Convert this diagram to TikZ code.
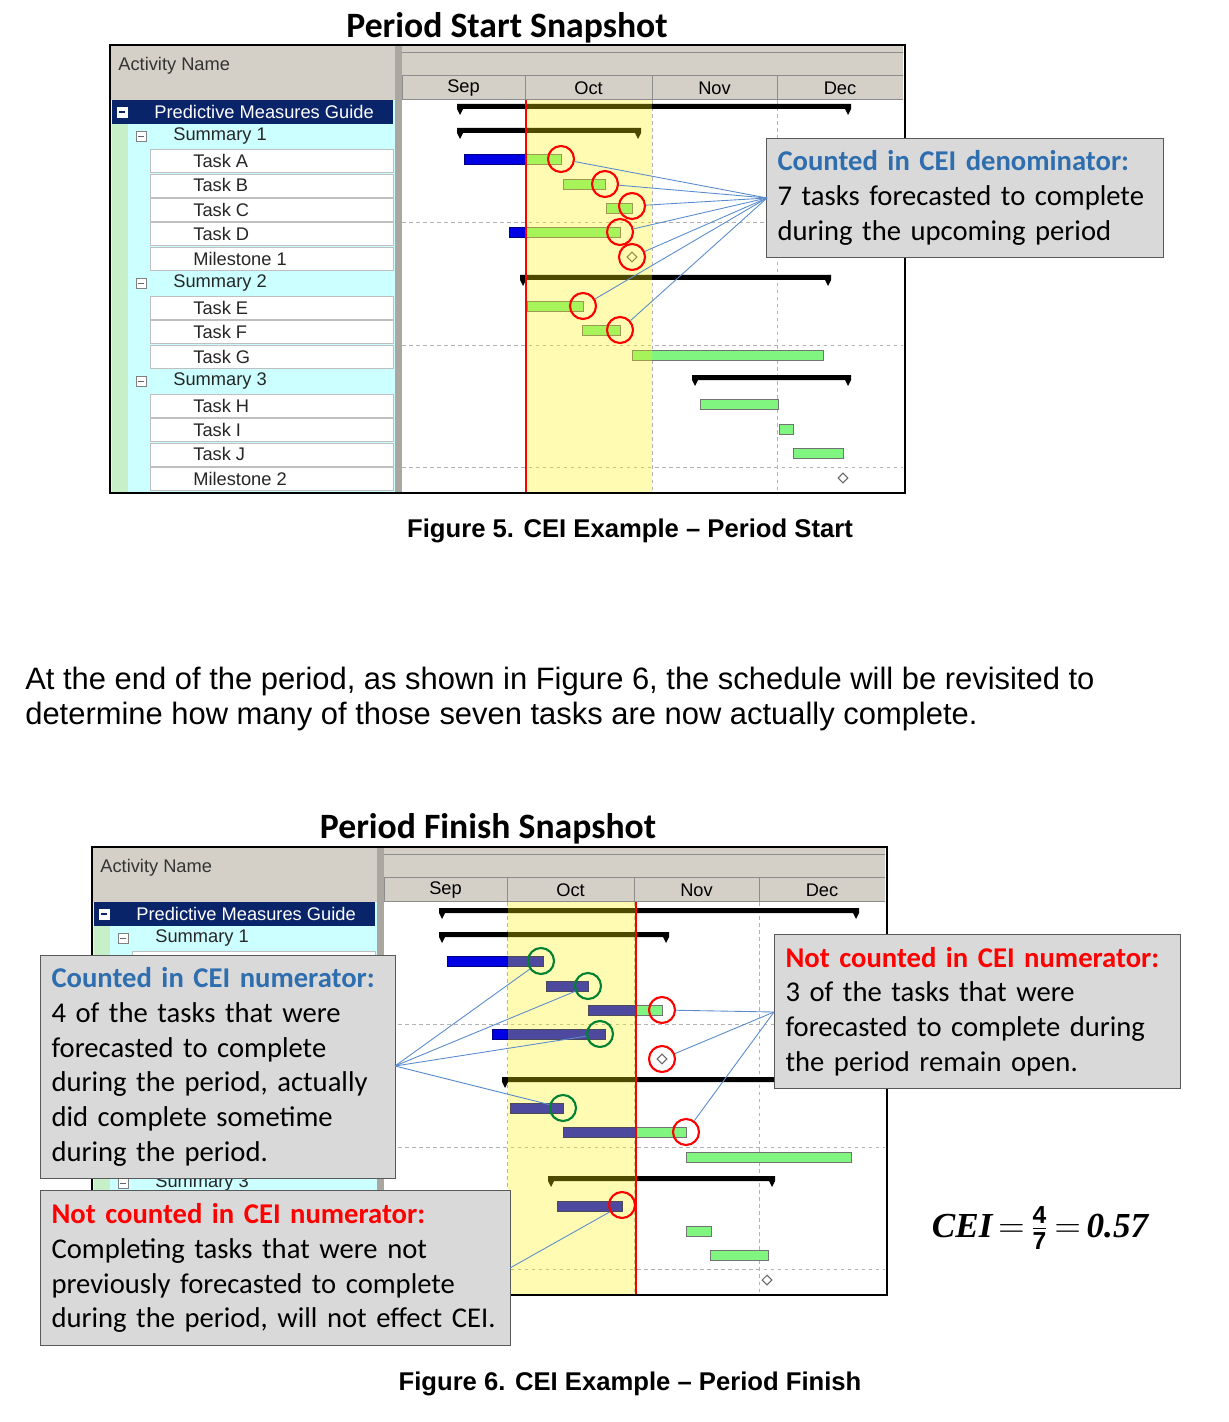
\documentclass[tikz,border=0pt]{standalone}
\usepackage{fontspec}
\setmainfont{Liberation Sans}
\newfontfamily\rowfont{Liberation Sans}
\newfontfamily\calfont{Carlito}
\newfontfamily\eqfont{Liberation Serif}
\usetikzlibrary{shapes.geometric}
\definecolor{panelgray}{RGB}{212,208,200}
\definecolor{rowcyan}{RGB}{204,255,255}
\definecolor{stripgreen}{RGB}{200,240,200}
\definecolor{navy}{RGB}{10,36,106}
\definecolor{barg}{RGB}{128,245,128}
\definecolor{linkblue}{RGB}{90,140,205}
\definecolor{boxgray}{RGB}{217,217,217}
\definecolor{headblue}{RGB}{46,110,175}
\definecolor{hitgreen}{RGB}{0,130,50}
\tikzset{
    done/.style={fill=blue!90!black, draw=blue!50!black, line width=0.4pt},
    todo/.style={fill=barg, draw=black!55, line width=0.4pt},
    grid/.style={draw=black!30, dash pattern=on 2pt off 2pt, line width=0.4pt},
    miss/.style={circle, draw=red, line width=1.2pt, minimum size=0.52cm, inner sep=0pt},
    hit/.style={circle, draw=hitgreen, line width=1.2pt, minimum size=0.52cm, inner sep=0pt},
    mile/.style={diamond, draw=black!60, line width=0.6pt, minimum size=0.2cm, inner sep=0pt},
    link/.style={draw=linkblue, line width=0.5pt},
    callout/.style={fill=boxgray, draw=black!65, line width=0.6pt, anchor=north west,
        align=left, inner xsep=0.22cm, inner ysep=0.12cm,
        font=\calfont\fontsize{16.3}{19.8}\selectfont},
    rowtext/.style={anchor=west, font=\rowfont\fontsize{10.4}{12}\selectfont, text=black!85, inner sep=0pt},
}
% summary bar with end tabs
\newcommand\sumbar[3]{%
  \fill (#1-3,#3-4) -- (#2+3,#3-4) -- (#2+3,#3+1) -- (#2,#3+7) -- (#2-3,#3+1)
     -- (#1+3,#3+1) -- (#1,#3+7) -- (#1-3,#3+1) -- cycle;}
\newcommand\ceitext{{\eqfont\bfseries\itshape CEI}\,$\mathbf{=}\,\frac{\mathbf{4}}{\mathbf{7}}\,\mathbf{=}$\,{\eqfont\bfseries\itshape 0.57}}
% table, header and grid (coordinates of the upper chart)
\newcommand\chartbase{%
  \fill[white] (402,100) rectangle (903,493);
  \fill[panelgray] (110,45) rectangle (903,100);
  \fill[rowcyan] (110,100) rectangle (395,493);
  \fill[stripgreen] (112,124) rectangle (128,493);
  \fill[panelgray!80!black] (395,45) rectangle (402,493);
  \node[rowtext, text=black!80] (hdr) at (118,66) {Activity Name};
  \draw[black!45] (402,52) -- (903,52) (402,75) -- (903,75) (402,99) -- (903,99);
  \foreach \xa/\xb/\mon in {402/525/Sep, 525/652/Oct, 652/777/Nov, 777/903/Dec}{
    \draw[black!45] (\xa,75) -- (\xa,99);
    \node[font=\rowfont\fontsize{10.4}{12}\selectfont] (m\mon) at ({(\xa+\xb)/2},88) {\mon};
  }
  \fill[navy] (112,100) rectangle (393,124);
  \draw[white, fill=white] (117,107) rectangle (127,117);
  \draw[navy, line width=1pt] (119,112) -- (125,112);
  \node[rowtext, text=white] (pmg) at (154,112) {Predictive Measures Guide};
  \foreach \lab/\i in {Summary 1/1, Summary 2/7, Summary 3/11}{
    \draw[black!50, fill=white] (136,{112+24.46*\i-5}) rectangle (146,{112+24.46*\i+5});
    \draw[black!60] (138,{112+24.46*\i}) -- (144,{112+24.46*\i});
    \node[rowtext] at (173,{112+24.46*\i}) {\lab};
  }
  \foreach \lab/\i in {Task A/2, Task B/3, Task C/4, Task D/5, Milestone 1/6,
                       Task E/8, Task F/9, Task G/10, Task H/12, Task I/13, Task J/14, Milestone 2/15}{
    \draw[black!25, fill=white] (150,{112+24.46*\i-11.5}) rectangle (393,{112+24.46*\i+11.5});
    \node[rowtext] at (193,{112+24.46*\i}) {\lab};
  }
  \foreach \yy in {222,345,467} \draw[grid] (402,\yy) -- (903,\yy);
  \foreach \xx in {525,652,777} \draw[grid] (\xx,100) -- (\xx,493);
}
% shaded period, status line and frame
\newcommand\chartband[3]{%
  \fill[yellow, fill opacity=0.3] (#1,100) rectangle (#2,493);
  \draw[red, line width=1.3pt] (#3,100) -- (#3,493);
  \draw[black, line width=1.1pt] (110,45) rectangle (905,493);
}
\begin{document}
\begin{tikzpicture}[x=0.02cm, y=-0.02cm]
\useasboundingbox[fill=white] (0,0) rectangle (1228,1422);
%
% period start
\node[font=\calfont\bfseries\fontsize{20.3}{24}\selectfont] (title1) at (507,28) {Period Start Snapshot};
\chartbase
\sumbar{460}{848}{108}
\sumbar{460}{638}{132}
\filldraw[done] (464,154) rectangle (526,164);
\filldraw[todo] (526,154) rectangle (561,164);
\filldraw[todo] (563,179) rectangle (605,189);
\filldraw[todo] (606,203) rectangle (632,213);
\filldraw[done] (509,227) rectangle (526,237);
\filldraw[todo] (526,227) rectangle (620,237);
\sumbar{523}{828}{279}
\filldraw[todo] (527,301) rectangle (583,311);
\filldraw[todo] (582,325) rectangle (620,335);
\filldraw[todo] (632,350) rectangle (823,360);
\sumbar{695}{848}{379}
\filldraw[todo] (700,399) rectangle (778,409);
\filldraw[todo] (779,424) rectangle (793,434);
\filldraw[todo] (793,448) rectangle (843,458);
\node[mile] (m1a) at (632,257) {};
\node[mile] (m2a) at (843,478) {};
\chartband{527}{652}{526}
\node[miss] (ta) at (561,159) {};
\node[miss] (tb) at (605,184) {};
\node[miss] (tc) at (632,206) {};
\node[miss] (td) at (620,232) {};
\node[miss] (tm) at (632,257) {};
\node[miss] (te) at (583,306) {};
\node[miss] (tf) at (620,330) {};
\node[callout, text width=7.5cm, minimum height=2.38cm] (denom) at (766,138)
  {\textbf{\color{headblue}Counted in CEI denominator:}\\7 tasks forecasted to complete\\during the upcoming period};
\coordinate (dp) at (767,198);
\foreach \t in {ta,tb,tc,td,tm,te,tf} \draw[link] (\t) -- (dp);
\node[font=\bfseries\fontsize{14.6}{17}\selectfont] (cap5) at (630,531) {Figure 5. CEI Example -- Period Start};
%
% text between the figures
\node[anchor=north west, align=left, inner sep=0pt, font=\fontsize{17.6}{19.8}\selectfont] (body) at (25,667)
  {At the end of the period, as shown in Figure 6, the schedule will be revisited to\\
   determine how many of those seven tasks are now actually complete.};
%
% period finish
\node[font=\calfont\bfseries\fontsize{20.3}{24}\selectfont] (title2) at (488,829) {Period Finish Snapshot};
\begin{scope}[shift={(-18,802)}]
\chartbase
\end{scope}
\sumbar{442}{856}{912}
\sumbar{442}{666}{936}
\filldraw[done] (447,956) rectangle (543,966);
\filldraw[done] (546,981) rectangle (588,991);
\filldraw[done] (588,1005) rectangle (636,1015);
\filldraw[todo] (636,1005) rectangle (662,1015);
\filldraw[done] (492,1029) rectangle (605,1039);
\sumbar{505}{855}{1081}
\filldraw[done] (510,1103) rectangle (563,1113);
\filldraw[done] (563,1127) rectangle (636,1137);
\filldraw[todo] (636,1127) rectangle (686,1137);
\filldraw[todo] (686,1152) rectangle (851,1162);
\sumbar{551}{772}{1180}
\filldraw[done] (557,1201) rectangle (622,1211);
\filldraw[todo] (686,1226) rectangle (711,1236);
\filldraw[todo] (710,1250) rectangle (768,1260);
\node[mile] (m1b) at (662,1059) {};
\node[mile] (m2b) at (767,1280) {};
\begin{scope}[shift={(-18,802)}]
\chartband{526}{654}{654}
\end{scope}
\node[hit] (fa) at (541,961) {};
\node[hit] (fb) at (588,986) {};
\node[miss] (fc) at (662,1010) {};
\node[hit] (fd) at (600,1034) {};
\node[miss] (fm) at (662,1059) {};
\node[hit] (fe) at (563,1108) {};
\node[miss] (ff) at (686,1132) {};
\node[miss] (fh) at (622,1205) {};
\node[callout, text width=6.66cm, minimum height=4.46cm] (numer) at (40,955)
  {\textbf{\color{headblue}Counted in CEI numerator:}\\4 of the tasks that were\\forecasted to complete\\during the period, actually\\did complete sometime\\during the period.};
\node[callout, text width=7.68cm, minimum height=3.08cm] (open) at (774,934)
  {\textbf{\color{red}Not counted in CEI numerator:}\\3 of the tasks that were\\forecasted to complete during\\the period remain open.};
\node[callout, text width=8.96cm, minimum height=3.1cm] (extra) at (40,1190)
  {\textbf{\color{red}Not counted in CEI numerator:}\\Completing tasks that were not\\previously forecasted to complete\\during the period, will not effect CEI.};
\coordinate (np) at (395,1066);
\coordinate (op) at (774,1012);
\coordinate (xp) at (510,1268);
\foreach \t in {fa,fb,fd,fe} \draw[link] (\t) -- (np);
\foreach \t in {fc,fm,ff} \draw[link] (\t) -- (op);
\draw[link] (fh) -- (xp);
\node[font=\fontsize{20}{22}\selectfont] (cei) at (1040,1228) {\ceitext};
\node[font=\bfseries\fontsize{14.6}{17}\selectfont] (cap6) at (630,1384) {Figure 6. CEI Example -- Period Finish};
\end{tikzpicture}
\end{document}
